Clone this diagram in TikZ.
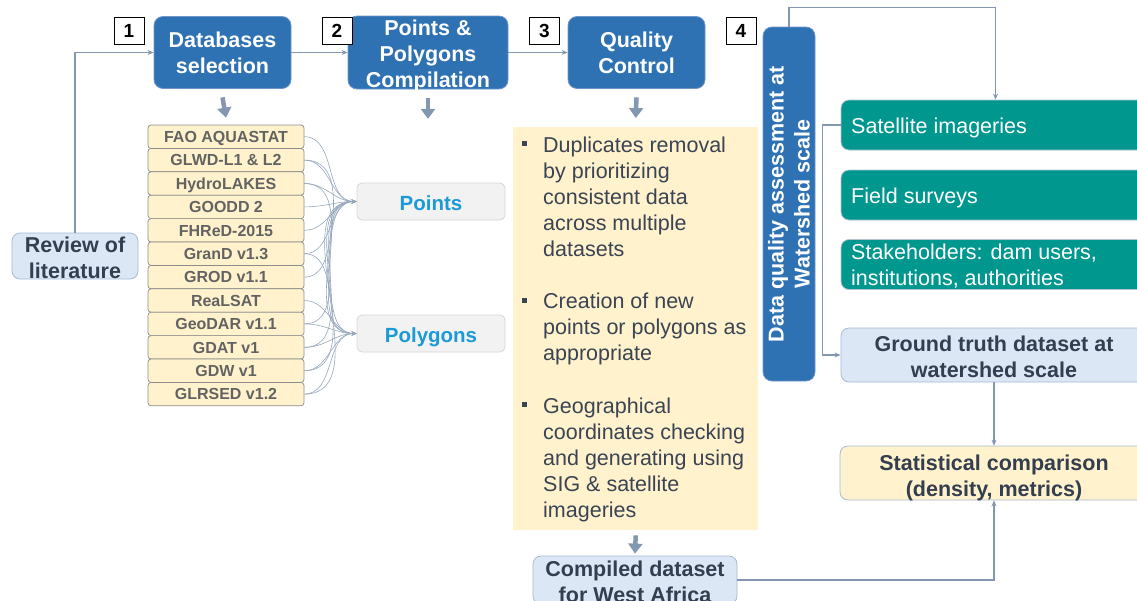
\documentclass[tikz,border=0pt]{standalone}
\usepackage{fontspec}
\setmainfont{Liberation Sans}
\usetikzlibrary{arrows.meta}

\definecolor{procblue}{HTML}{2E72B4}
\definecolor{procedge}{HTML}{6F95C8}
\definecolor{lineblue}{HTML}{8497B0}
\definecolor{paleblue}{HTML}{DCE7F5}
\definecolor{paleedge}{HTML}{A6B9D3}
\definecolor{cream}{HTML}{FFF2CC}
\definecolor{creamedge}{HTML}{8C8C8C}
\definecolor{seafill}{HTML}{00978F}
\definecolor{seaedge}{HTML}{B3C4CE}
\definecolor{darktext}{HTML}{333F50}
\definecolor{greytext}{HTML}{636363}
\definecolor{cyantext}{HTML}{1A9AD6}
\definecolor{bodytext}{HTML}{3B4454}
\definecolor{boxgrey}{HTML}{F2F2F2}
\definecolor{boxgreyedge}{HTML}{D6D6D6}

\newcommand\fsz[2]{\fontsize{#1}{#2}\selectfont}
% centred lines whose anchor "base" is the first baseline
\newcommand\ctext[2]{\begin{minipage}[t]{#1}\centering #2\end{minipage}}
% left-aligned lines whose anchor "base west" is the first baseline
\newcommand\ltext[2]{\begin{minipage}[t]{#1}\raggedright #2\end{minipage}}

\begin{document}
\begin{tikzpicture}[x=1pt,y=-1pt,
  proc/.style={fill=procblue, draw=procedge, line width=0.8pt, rounded corners=9pt,
    text=white, font=\bfseries\fsz{21.5}{26}, align=center, inner sep=0pt},
  numbox/.style={draw=black, fill=white, line width=1pt, minimum width=30pt,
    minimum height=27pt, inner sep=0pt, font=\bfseries\fsz{19}{22}},
  palebox/.style={fill=paleblue, draw=paleedge, line width=0.8pt, rounded corners=8pt,
    inner sep=0pt},
  statbox/.style={palebox, fill=cream},
  boldlabel/.style={anchor=base, inner sep=0pt, text=darktext, font=\bfseries\fsz{21.5}{26}},
  whitelabel/.style={anchor=base, inner sep=0pt, text=white, font=\bfseries\fsz{21.5}{26}},
  dbrow/.style={fill=cream, draw=creamedge, line width=0.7pt, rounded corners=3pt,
    minimum width=156pt, minimum height=23.4pt, inner sep=0pt, text=greytext,
    text height=11.5pt, text depth=0pt, font=\bfseries\fsz{16}{18}},
  seabox/.style={fill=seafill, draw=seaedge, line width=0.8pt, rounded corners=8pt,
    inner sep=0pt, minimum width=309pt, minimum height=50pt},
  sealabel/.style={anchor=base west, inner sep=0pt, text=white, font=\fsz{21.5}{26.4}},
  pbox/.style={fill=boxgrey, draw=boxgreyedge, line width=0.8pt, rounded corners=5pt,
    minimum width=148pt, minimum height=37pt, inner sep=0pt, text=cyantext,
    text height=17.7pt, text depth=0pt, font=\bfseries\fsz{20.5}{24}},
  link/.style={draw=lineblue, line width=1.3pt, -{Stealth[length=6pt,width=5pt]}},
  fan/.style={draw=lineblue!85, line width=0.6pt, -{Stealth[length=5pt,width=4pt]}},
  fat/.style={draw=lineblue, line width=4.5pt, -{Triangle[length=10pt,width=14pt]}}
]
\useasboundingbox (0,0) rectangle (1137,600);
\clip (0,0) rectangle (1137,600);

% main process boxes
\node[proc, minimum width=137pt, minimum height=72pt] (dbsel) at (222.5,52.5) {Databases\\selection};
\node[proc, minimum width=160pt, minimum height=73pt] (ppc) at (428,52.5) {};
\node[whitelabel] (ppctext) at (428,35) {\ctext{160pt}{Points \&\\Polygons\\Compilation}};
\node[proc, minimum width=137pt, minimum height=72pt] (qc) at (636.5,52.5) {Quality\\Control};
\node[proc, rotate=90, minimum width=354pt, minimum height=52pt] (wshed) at (789,204)
  {Data quality assessment at\\Watershed scale};

% step numbers
\node[numbox] (n1) at (129,31) {1};
\node[numbox] (n2) at (337,31) {2};
\node[numbox] (n3) at (544.5,30.5) {3};
\node[numbox] (n4) at (741,30.5) {4};

% literature review
\node[palebox, minimum width=126pt, minimum height=46pt] (review) at (75,256) {};
\node[boldlabel] (reviewtext) at (75,252) {\ctext{126pt}{Review of\\literature}};

% candidate databases
\foreach \i/\t in {1/FAO AQUASTAT, 2/GLWD-L1 \& L2, 3/HydroLAKES, 4/GOODD 2, 5/FHReD-2015,
  6/GranD v1.3, 7/GROD v1.1, 8/ReaLSAT, 9/GeoDAR v1.1, 10/GDAT v1, 11/GDW v1, 12/GLRSED v1.2}
  \node[dbrow] (db\i) at (226,{125+23.4*(\i-0.5)}) {\t};

% geometry types
\node[pbox] (points) at (431,201.5) {Points};
\node[pbox] (polygons) at (431,333.5) {Polygons};

\foreach \i in {1,2,3,4,5,6,7,9,10,11,12}
  \draw[fan] (db\i.east) to[out=0,in=180] (points.west);
\foreach \i in {2,3,6,8,9,10,11,12}
  \draw[fan] (db\i.east) to[out=0,in=180] (polygons.west);

% quality control notes
\node[fill=cream, minimum width=245pt, minimum height=403pt, inner sep=0pt, anchor=north west]
  (panel) at (513,127) {};
\node[anchor=base west, inner sep=0pt, text=bodytext, font=\fsz{21.5}{26.1}] (qcnotes) at (543,152)
  {\begin{minipage}[t]{230pt}\fsz{21.5}{26.1}%
   Duplicates removal\\by prioritizing\\consistent data\\across multiple\\datasets\\\mbox{}\\
   Creation of new\\points or polygons as\\appropriate\\\mbox{}\\
   Geographical\\coordinates checking\\and generating using\\SIG \& satellite\\imageries
   \end{minipage}};
\foreach \b in {152,308.6,413}
  \fill[bodytext] (521.5,\b-11) rectangle (526.5,\b-6);

% outcome boxes
\node[palebox, minimum width=204pt, minimum height=48pt] (compiled) at (635,580) {};
\node[boldlabel] (compiledtext) at (635,576) {\ctext{204pt}{Compiled dataset\\for West Africa}};

\node[seabox] (sat) at (995.5,125) {};
\node[sealabel] (sattext) at (851,133.5) {Satellite imageries};
\node[seabox] (field) at (995.5,195) {};
\node[sealabel] (fieldtext) at (851,203) {Field surveys};
\node[seabox] (stake) at (995.5,264.5) {};
\node[sealabel] (staketext) at (851,259.5) {\ltext{280pt}{Stakeholders: dam users,\\institutions, authorities}};

\node[palebox, minimum width=306pt, minimum height=54pt] (ground) at (994,355) {};
\node[boldlabel] (groundtext) at (994,351) {\ctext{306pt}{Ground truth dataset at\\watershed scale}};
\node[statbox, minimum width=308pt, minimum height=54pt] (stats) at (994,473) {};
\node[boldlabel] (statstext) at (994,470) {\ctext{308pt}{Statistical comparison\\(density, metrics)}};

% connectors
\draw[link] (review.north) |- (dbsel.west);
\draw[link] (dbsel.east) -- (ppc.west);
\draw[link] (ppc.east) -- (qc.west);
\draw[link] (wshed.east) -- ++(0,-19) -| (sat.north);
\draw[link] (sat.west) -- ++(-18,0) |- (ground.west);
\draw[link] (ground.south) -- (stats.north);
\draw[link] (compiled.east) -| (stats.south);

\draw[fat] ([yshift=-8.5pt]dbsel.south) -- ([yshift=7pt]db1.north);
\draw[fat] ([yshift=-8.5pt]ppc.south) -- ++(0,21);
\draw[fat] ([yshift=-8.5pt]qc.south) -- ([yshift=9pt]panel.north);
\draw[fat] ([yshift=-5pt]panel.south) -- ([yshift=2pt]compiled.north);
\end{tikzpicture}
\end{document}
